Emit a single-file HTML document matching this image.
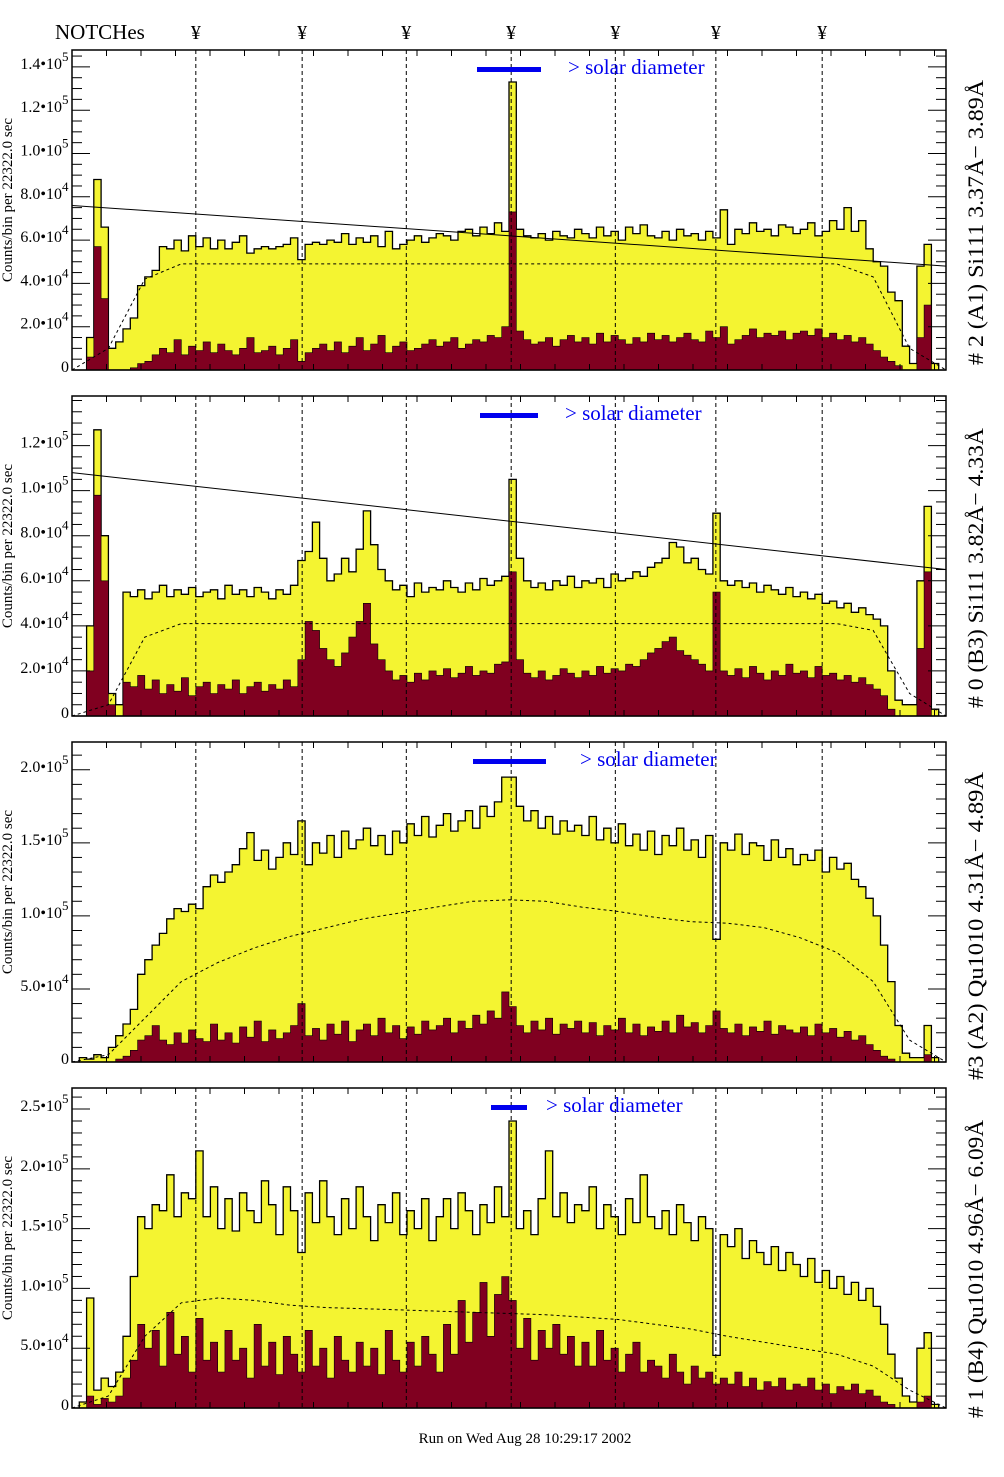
<!DOCTYPE html>
<html><head><meta charset="utf-8"><title>NOTCHes spectra</title>
<style>
html,body{margin:0;padding:0;background:#fff;}
svg{display:block;font-family:"Liberation Serif","DejaVu Serif",serif;}
</style></head>
<body>
<svg id="chart" width="1004" height="1477" viewBox="0 0 1004 1477" xmlns="http://www.w3.org/2000/svg">
<text x="55" y="39" font-size="21">NOTCHes</text>
<text x="525" y="1443" font-size="15" text-anchor="middle">Run on Wed Aug 28 10:29:17 2002</text>
</svg>
<script>
// ---- data (units of 1e4 counts per bin, 120 bins spanning the x axis) ----
const notchBins = [17, 31.6, 45.9, 60.3, 74.6, 88.4, 103];
const p1Total = [0,0,1.5,8.8,6.6,1.0,1.3,1.9,2.4,3.9, 4.3,4.6,5.7,5.6,6.0,5.5,6.2,5.7,6.1,5.6, 6.0,5.6,5.9,6.2,5.4,5.6,5.7,5.6,5.7,5.8, 6.1,5.1,5.8,5.9,5.8,6.0,5.9,6.3,5.8,6.1, 5.9,6.2,5.7,6.4,5.6,5.8,6.0,6.2,5.9,6.1, 6.3,6.2,6.0,6.4,6.5,6.2,6.6,6.3,6.8,6.4, 13.3,6.5,6.2,6.1,6.3,6.0,6.4,6.2,6.1,6.5, 6.3,6.1,6.6,6.2,6.4,6.0,6.6,6.3,6.7,6.2, 6.1,6.4,6.0,6.5,6.2,6.3,6.0,6.4,6.1,7.4, 5.8,6.5,6.3,6.8,6.4,6.5,6.2,6.7,6.6,6.3, 6.5,6.8,6.2,6.4,6.9,6.5,7.5,6.4,6.9,5.6, 5.0,4.8,3.6,3.2,1.1,0.3,4.8,5.8,0.3,0];
const p1Low = [0,0,0.6,5.7,3.3,0,0,0,0.1,0.3, 0.4,0.7,1.0,0.8,1.4,0.7,1.1,0.9,1.3,0.8, 1.2,0.9,0.7,1.0,1.5,0.8,0.9,1.1,0.7,1.0, 1.4,0.4,0.8,1.0,1.2,0.9,1.3,0.8,1.1,1.5, 0.9,1.2,1.6,0.8,1.1,1.3,0.9,1.0,1.2,1.4, 1.1,1.3,1.5,1.0,1.2,1.4,1.3,1.6,1.5,2.0, 7.3,1.8,1.4,1.2,1.3,1.5,1.1,1.4,1.6,1.3, 1.5,1.2,1.7,1.3,1.6,1.4,1.2,1.5,1.3,1.7, 1.4,1.6,1.3,1.5,1.7,1.4,1.3,1.8,1.5,2.0, 1.2,1.4,1.6,1.9,1.5,1.7,1.6,1.8,1.4,1.7, 1.8,1.6,1.9,1.5,1.7,1.4,1.6,1.3,1.5,1.2, 0.9,0.6,0.4,0.2,0,0,1.5,3.0,0,0];
const p1Smooth = [0,1.0,4.2,4.9,4.9,4.9,4.9,4.9,4.9,4.9,4.9,4.9,4.9,4.9,4.9,4.9,4.9,4.9,4.9,4.9,4.9,4.9,4.3,1.0,0];
const p1Line = [7.6, 4.8];

const p2Total = [0,0,4.0,12.7,8.0,1.0,0.5,5.5,5.3,5.6, 5.2,5.5,5.8,5.3,5.6,5.4,5.7,5.3,5.5,5.6, 5.2,5.8,5.4,5.6,5.3,5.7,5.5,5.2,5.6,5.4, 5.8,6.9,7.3,8.6,7.0,6.0,6.3,7.0,6.4,7.4, 9.1,7.6,6.5,6.0,5.6,5.8,5.3,5.9,5.5,5.7, 5.6,6.0,5.7,5.5,5.9,5.6,6.1,5.8,6.0,6.2, 10.5,7.0,6.0,5.7,5.9,5.6,6.0,5.8,6.2,5.7, 6.0,5.9,6.1,5.7,6.3,6.0,6.1,6.4,6.2,6.6, 6.8,7.0,7.7,7.5,6.8,7.0,6.5,6.3,9.0,6.0, 5.8,6.0,5.7,5.9,5.5,5.8,5.6,5.4,5.7,5.3, 5.5,5.2,5.4,5.0,5.1,4.8,5.0,4.6,4.8,4.5, 4.3,4.0,2.0,0.7,0.5,0.5,6.0,9.3,0.3,0];
const p2Low = [0,0,2.0,9.8,6.0,0.5,0,1.5,1.3,1.8, 1.2,1.6,1.0,1.4,1.1,1.7,0.9,1.3,1.5,1.0, 1.4,1.2,1.6,1.0,1.3,1.5,1.1,1.4,1.2,1.6, 1.3,2.5,4.2,3.8,3.0,2.5,2.2,2.8,3.5,4.2, 5.0,3.2,2.5,2.0,1.6,1.8,1.5,1.9,1.6,2.0, 1.8,2.1,1.7,1.9,2.2,1.8,2.0,1.9,2.3,2.4, 6.4,2.5,1.9,1.7,2.0,1.6,1.8,2.1,1.9,1.7, 2.0,1.8,2.2,1.9,2.1,2.0,2.3,2.2,2.5,2.8, 3.0,3.3,3.5,2.9,2.7,2.5,2.3,2.0,5.5,2.0, 1.8,2.1,1.7,2.2,1.9,1.6,2.0,1.8,2.3,1.9, 2.0,1.7,2.2,1.8,1.9,1.6,1.8,1.5,1.7,1.4, 1.2,0.9,0.3,0,0,0,3.0,6.4,0,0];
const p2Smooth = [0,0.5,3.5,4.1,4.1,4.1,4.1,4.1,4.1,4.1,4.1,4.1,4.1,4.1,4.1,4.1,4.1,4.1,4.1,4.1,4.1,4.1,3.8,1.0,0];
const p2Line = [10.8, 6.5];

const p3Total = [0,0.3,0.2,0.5,0.3,1.0,1.8,2.6,3.6,6.0, 7.0,8.0,8.8,9.8,10.5,10.3,10.8,10.5,12.0,12.8, 12.3,13.0,13.5,14.6,15.7,13.8,14.5,13.2,14.0,15.0, 14.2,16.5,13.5,15.0,14.3,15.5,14.0,15.8,14.6,15.2, 16.0,14.8,15.5,14.2,15.8,15.0,16.3,15.5,16.8,15.4, 16.2,17.0,15.8,16.5,17.2,16.0,17.5,16.8,17.8,19.5, 19.5,17.5,16.5,17.2,16.0,16.8,15.6,16.5,15.8,16.2, 15.5,16.8,15.2,16.0,15.0,16.3,14.8,15.6,14.5,15.8, 14.2,15.5,14.8,16.0,14.5,15.2,14.0,15.5,8.4,15.0, 14.5,15.6,14.2,15.0,14.8,13.8,15.2,14.0,14.6,13.5, 14.2,13.8,14.5,13.0,14.0,13.2,13.6,12.5,12.0,11.2, 10.0,8.0,5.5,2.5,0.6,0.3,0.3,2.5,0.3,0];
const p3Low = [0,0,0,0,0,0,0.2,0.4,0.8,1.5, 1.8,2.5,1.5,1.2,2.0,1.3,2.2,1.6,1.4,2.6, 1.5,2.0,1.3,2.4,1.7,2.8,1.4,2.2,1.6,2.0, 2.5,4.0,1.8,2.3,1.5,2.6,1.9,2.8,1.4,2.2, 2.6,1.8,3.0,2.0,2.5,1.6,2.4,1.9,2.8,2.2, 2.5,3.0,2.0,2.8,2.3,3.2,2.6,3.5,3.0,4.8, 3.8,2.5,2.0,2.8,2.2,3.0,1.9,2.6,2.3,2.8, 2.0,2.7,1.8,2.5,2.2,3.0,2.0,2.6,1.8,2.4, 2.1,2.8,2.0,3.2,2.4,2.7,2.0,2.5,3.5,2.3, 2.0,2.6,1.8,2.4,2.1,2.8,1.9,2.5,2.2,2.0, 2.4,1.8,2.6,2.0,2.3,1.7,2.1,1.5,1.8,1.2, 0.8,0.4,0.2,0,0,0,0,0.5,0,0];
const p3Smooth = [0,0.5,3.0,5.5,6.8,7.8,8.6,9.2,9.8,10.2,10.6,11.0,11.1,11.0,10.6,10.3,9.9,9.6,9.5,9.2,8.5,7.5,5.5,1.5,0];

const p4Total = [0,0.5,9.2,1.5,2.5,1.8,3.0,6.0,11.0,16.0, 15.0,17.0,16.5,19.5,16.0,18.0,17.5,21.5,16.0,18.5, 15.0,17.5,14.8,18.0,16.5,15.5,19.0,17.0,14.5,18.5, 16.5,13.0,18.0,15.5,19.0,16.0,14.5,17.5,15.0,18.5, 16.0,14.0,17.0,15.5,18.0,14.5,16.5,15.0,17.5,14.0, 16.0,17.5,15.0,18.0,16.5,14.5,17.0,15.5,18.5,16.0, 24.0,15.0,16.5,14.5,17.5,21.5,16.0,18.0,15.5,17.0, 16.5,18.5,15.0,17.0,16.0,14.5,17.5,15.5,19.5,16.0, 15.0,16.5,14.5,17.0,15.5,14.0,16.0,15.0,4.4,14.5, 13.5,15.0,12.5,14.0,13.0,12.0,13.5,11.5,13.0,12.0, 11.0,12.5,10.5,11.5,10.0,11.0,9.5,10.5,9.0,10.0, 8.5,7.0,4.5,2.5,1.0,0.5,5.0,6.3,0.3,0];
const p4Low = [0,0,1.0,0.3,0.8,0.5,1.0,2.5,4.0,7.0, 5.0,6.5,3.5,8.0,4.5,6.0,3.0,7.5,4.0,5.5, 3.0,6.5,4.0,5.0,2.5,7.0,3.5,5.5,2.8,6.0, 4.5,3.0,6.5,3.5,5.0,2.5,6.0,4.0,3.0,5.5, 3.5,5.0,2.8,6.5,4.0,3.0,5.5,3.5,6.0,4.5, 3.0,7.0,4.5,9.0,5.5,8.0,10.5,6.0,9.5,11.0, 9.0,5.0,7.5,4.0,6.5,5.0,7.0,4.5,6.0,3.5, 5.5,3.5,6.5,4.0,5.0,3.0,4.5,5.5,3.0,4.0, 3.5,2.5,4.5,3.0,2.0,3.5,2.5,3.0,2.0,2.5, 2.0,3.0,1.8,2.5,1.5,2.2,1.8,2.5,1.5,2.0, 1.8,2.5,1.5,2.0,1.2,1.8,1.5,2.0,1.2,1.5, 1.0,0.5,0.3,0,0,0,0.5,1.0,0,0];
const p4Smooth = [0,1.0,6.0,8.8,9.2,9.0,8.6,8.4,8.3,8.2,8.1,8.0,7.9,7.8,7.6,7.4,7.0,6.6,6.0,5.5,5.0,4.5,3.5,1.5,0];

const p1Ticks = [0,2,4,6,8,10,12,14];
const p2Ticks = [0,2,4,6,8,10,12];
const p3Ticks = [0,5,10,15,20];
const p4Ticks = [0,5,10,15,20,25];
const p1Labels = ["0","2.0•10|4","4.0•10|4","6.0•10|4","8.0•10|4","1.0•10|5","1.2•10|5","1.4•10|5"];
const p2Labels = ["0","2.0•10|4","4.0•10|4","6.0•10|4","8.0•10|4","1.0•10|5","1.2•10|5"];
const p3Labels = ["0","5.0•10|4","1.0•10|5","1.5•10|5","2.0•10|5"];
const p4Labels = ["0","5.0•10|4","1.0•10|5","1.5•10|5","2.0•10|5","2.5•10|5"];
const sideTitles = ["# 2 (A1) Si111  3.37Å− 3.89Å","# 0 (B3) Si111  3.82Å− 4.33Å","#3 (A2) Qu1010  4.31Å− 4.89Å","# 1 (B4) Qu1010 4.96Å− 6.09Å"];

// ---- layout ----
const svg = document.getElementById('chart');
const NS = 'http://www.w3.org/2000/svg';
const X0 = 72, X1 = 946, NB = 120;
const panels = [
  {top:50, max:14.78, total:p1Total, low:p1Low, smooth:p1Smooth, line:p1Line, ticks:p1Ticks, labels:p1Labels, minor:0.5, bar:[477,541], txt:568, ttl:[80,365]},
  {top:396, max:14.2, total:p2Total, low:p2Low, smooth:p2Smooth, line:p2Line, ticks:p2Ticks, labels:p2Labels, minor:0.5, bar:[480,538], txt:565, ttl:[428,708]},
  {top:742, max:21.9, total:p3Total, low:p3Low, smooth:p3Smooth, line:null, ticks:p3Ticks, labels:p3Labels, minor:1, bar:[473,546], txt:580, ttl:[772,1080]},
  {top:1088, max:26.76, total:p4Total, low:p4Low, smooth:p4Smooth, line:null, ticks:p4Ticks, labels:p4Labels, minor:1, bar:[491,527], txt:546, ttl:[1120,1418]}
];
const H = 320;
function xScale(b){ return X0 + b*(X1-X0)/NB; }
function mk(tag, attrs, parent){
  const e = document.createElementNS(NS, tag);
  for (const k in attrs) e.setAttribute(k, attrs[k]);
  (parent||svg).appendChild(e);
  return e;
}

notchBins.forEach(function(b){
  const t = mk('text', {x: xScale(b), y: 39, 'font-size': 20, 'text-anchor':'middle'});
  
  
  t.textContent = '¥';
});

panels.forEach(function(p, pi){
  const g = mk('g', {});
  
  
  const bot = p.top + H;
  const yS = function(v){ return bot - v * H / p.max; };

  function histPath(arr){
    let d = 'M' + xScale(0) + ' ' + bot;
    for (let i = 0; i < arr.length; i++){
      const y = Math.max(yS(arr[i]), p.top).toFixed(1);
      d += ' L' + xScale(i).toFixed(1) + ' ' + y + ' L' + xScale(i+1).toFixed(1) + ' ' + y;
    }
    d += ' L' + xScale(NB) + ' ' + bot + ' Z';
    return d;
  }
  const yel = mk('path', {d: histPath(p.total), fill:'#f4f431', stroke:'#000', 'stroke-width':1.3}, g);
  
  
  const mar = mk('path', {d: histPath(p.low), fill:'#800020', stroke:'#000', 'stroke-width':0.6}, g);
  
  

  let pts = p.smooth.map(function(v, k){ return xScale(k*5).toFixed(1) + ',' + yS(v).toFixed(1); }).join(' ');
  const sm = mk('polyline', {points: pts, fill:'none', stroke:'#000', 'stroke-width':1, 'stroke-dasharray':'3,3'}, g);
  
  

  if (p.line){
    const ln = mk('line', {x1:X0, y1:yS(p.line[0]), x2:X1, y2:yS(p.line[1]), stroke:'#000', 'stroke-width':1}, g);
    
    
  }

  notchBins.forEach(function(b){
    const nl = mk('line', {x1:xScale(b), y1:p.top, x2:xScale(b), y2:bot, stroke:'#000', 'stroke-width':1, 'stroke-dasharray':'4,3'}, g);
    
    
  });

  const fr = mk('rect', {x:X0, y:p.top, width:X1-X0, height:H, fill:'none', stroke:'#000', 'stroke-width':1.5}, g);
  
  

  for (let v = 0; v <= p.max + 1e-9; v += p.minor){
    const major = p.ticks.some(function(t){ return Math.abs(t - v) < 1e-6; });
    const len = major ? 18 : 10;
    mk('line', {x1:X0, y1:yS(v), x2:X0+len, y2:yS(v), stroke:'#000', 'stroke-width':1}, g);
    mk('line', {x1:X1, y1:yS(v), x2:X1-len, y2:yS(v), stroke:'#000', 'stroke-width':1}, g);
  }
  for (let x = X0; x <= X1; x += 34.5){
    mk('line', {x1:x, y1:p.top, x2:x, y2:p.top+6, stroke:'#000', 'stroke-width':1}, g);
    mk('line', {x1:x, y1:bot, x2:x, y2:bot-6, stroke:'#000', 'stroke-width':1}, g);
  }
  p.ticks.forEach(function(t, k){
    const parts = p.labels[k].split('|');
    const tx = mk('text', {x: parts.length > 1 ? 62 : 69, y: yS(t) + 2, 'font-size': 16, 'text-anchor':'end'}, g);
    
    
    tx.textContent = parts[0];
    if (parts.length > 1){
      const sup = mk('text', {x: 62, y: yS(t) - 6, 'font-size': 13}, g);
      
      
      sup.textContent = parts[1];
    }
  });

  const cy = p.top + H/2 - 10;
  const yt = mk('text', {x: 0, y: 0, 'font-size': 15, 'text-anchor':'middle', transform:'translate(12,' + cy + ') rotate(-90)'}, g);
  
  
  yt.textContent = 'Counts/bin per  22322.0 sec';

  const tl = p.ttl[1] - p.ttl[0];
  const st = mk('text', {x: 0, y: 0, 'font-size': 22, 'text-anchor':'middle', textLength: tl, lengthAdjust:'spacingAndGlyphs', transform:'translate(983,' + ((p.ttl[0]+p.ttl[1])/2) + ') rotate(-90)'}, g);
  
  
  st.textContent = sideTitles[pi];

  const sb = mk('rect', {x:p.bar[0], y:p.top+17, width:p.bar[1]-p.bar[0], height:5, fill:'#0000ee'}, g);
  
  
  const sl = mk('text', {x:p.txt, y:p.top+24, 'font-size': 21, fill:'#0000ee'}, g);
  
  
  sl.textContent = '> solar diameter';
});
</script>
</body></html>
